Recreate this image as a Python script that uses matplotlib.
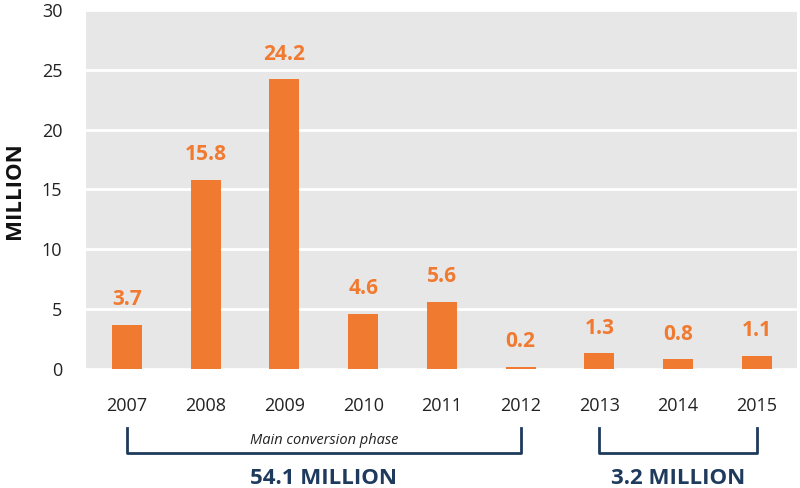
import matplotlib.pyplot as plt
import matplotlib.transforms as mtransforms

plt.rcParams['font.family'] = ['Open Sans', 'DejaVu Sans']

years = ['2007', '2008', '2009', '2010', '2011', '2012', '2013', '2014', '2015']
values = [3.7, 15.8, 24.2, 4.6, 5.6, 0.2, 1.3, 0.8, 1.1]
groups = [(0, 5, '54.1 MILLION', 'Main conversion phase'),
          (6, 8, '3.2 MILLION', None)]

orange = '#F07A30'
navy = '#1E3A5C'

fig = plt.figure(figsize=(8, 4.88), dpi=100)
ax = fig.add_axes([0.1075, 0.2439, 0.8888, 0.7357])
ax.set_facecolor('#E8E7E7')

x = range(len(years))
ax.bar(x, values, width=0.38, color=orange, zorder=3)
for xi, v in zip(x, values):
    ax.text(xi, v + 2.1, f'{v:.1f}', ha='center', va='center', color=orange,
            fontsize=15, fontweight='bold', zorder=4)

ax.set_ylim(0, 30)
ax.set_xlim(-0.52, 8.51)
ax.set_yticks(range(0, 31, 5))
ax.set_xticks(list(x))
ax.set_xticklabels(years)
ax.grid(axis='y', color='white', linewidth=2, zorder=1)
ax.set_axisbelow(True)
for s in ax.spines.values():
    s.set_visible(False)
ax.tick_params(length=0, labelsize=13, labelcolor='#222222')
ax.tick_params(axis='x', pad=20)
ax.tick_params(axis='y', pad=17)
fig.text(15 / 800, 0.61, 'MILLION', rotation=90, ha='center', va='center',
         fontsize=16, fontweight='bold', color='#111111')

# brackets under the axis
trans = mtransforms.blended_transform_factory(ax.transData, ax.transAxes)
for a, b, total, note in groups:
    ax.plot([a, a, b, b], [-0.164, -0.234, -0.234, -0.164], color=navy,
            linewidth=2, transform=trans, clip_on=False)
    mid = (a + b) / 2
    if note:
        ax.text(mid, -0.198, note, ha='center', va='center', fontsize=10.5,
                style='italic', color='#222222', transform=trans)
    ax.text(mid, -0.305, total, ha='center', va='center', fontsize=16,
            fontweight='bold', color=navy, transform=trans)

fig.savefig('out.png', dpi=100)
